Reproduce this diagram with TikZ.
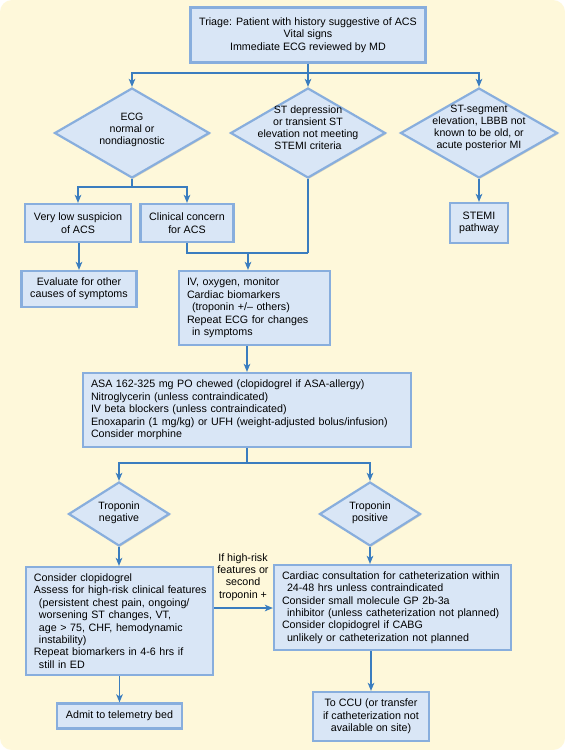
\documentclass[tikz,border=0pt]{standalone}
\usepackage{fontspec}
\setmainfont{Liberation Sans}
\usetikzlibrary{arrows.meta,shapes.geometric,shadows}
\definecolor{bgc}{HTML}{FEF8DA}
\definecolor{boxfill}{HTML}{D9E6F6}
\definecolor{boxedge}{HTML}{88AEDD}
\definecolor{arrc}{HTML}{3A7DBF}
\newcommand{\fsz}{\fontsize{10.7}{12.4}\selectfont}
\newcommand{\ind}{\hspace*{5pt}}
\begin{document}
\begin{tikzpicture}[x=1pt,y=-1pt,
  box/.style={draw=boxedge, line width=2.2pt, fill=boxfill, inner xsep=8pt, inner ysep=2pt,
    align=center, font=\fsz, text=black,
    drop shadow={shadow xshift=1.2pt, shadow yshift=-1.2pt, fill=black, opacity=0.12}},
  lbox/.style={box, align=left, execute at begin node={\hyphenpenalty=10000}},
  dia/.style={diamond, draw=boxedge, line width=2.2pt, fill=boxfill, inner sep=0pt,
    drop shadow={shadow xshift=1.2pt, shadow yshift=-1.2pt, fill=black, opacity=0.12}},
  dtext/.style={align=center, font=\fontsize{10.6}{12}\selectfont, inner sep=0pt},
  ln/.style={draw=arrc, line width=1.6pt},
  arr/.style={ln, -{Stealth[length=8pt,width=6.5pt,inset=2pt]}},
  lab/.style={align=center, font=\fsz, inner sep=0pt}]
\useasboundingbox (0,0) rectangle (565,750);
\fill[white] (0,0) rectangle (565,750);
\fill[bgc, rounded corners=12pt] (0,0) rectangle (565,750);

% top
\node[box, minimum width=235, minimum height=55] (top) at (308,35)
  {Triage: Patient with history suggestive of ACS\\Vital signs\\Immediate ECG reviewed by MD};

% diamonds
\node[dia, minimum width=155, minimum height=90] (d1) at (132,133) {};
\node[dia, minimum width=155, minimum height=90] (d2) at (308,133) {};
\node[dia, minimum width=157, minimum height=90] (d3) at (479,133) {};
\node[dtext] (d1t) at (132,130) {ECG\\normal or\\nondiagnostic};
\node[dtext] (d2t) at (308,128) {ST depression\\or transient ST\\elevation not meeting\\STEMI criteria};
\node[dtext] (d3t) at (479,128) {ST-segment\\elevation, LBBB not\\known to be old, or\\acute posterior MI};

% second row
\node[box, minimum width=106, minimum height=38] (vlow) at (78,223) {Very low suspicion\\of ACS};
\node[box, minimum width=93, minimum height=38] (clin) at (187,223) {Clinical concern\\for ACS};
\node[box, minimum width=58, minimum height=40] (stemi) at (479,223) {STEMI\\pathway};
\node[box, minimum width=115, minimum height=36] (eval) at (79,289) {Evaluate for other\\causes of symptoms};
\node[lbox, minimum width=151, minimum height=74, text width=135] (iv) at (254.5,308)
  {IV, oxygen, monitor\\Cardiac biomarkers\\\ind(troponin +/-- others)\\Repeat ECG for changes\\\ind in symptoms};

\node[lbox, minimum width=328, minimum height=74, text width=312] (asa) at (247,410)
  {ASA 162-325 mg PO chewed (clopidogrel if ASA-allergy)\\Nitroglycerin (unless contraindicated)\\IV beta blockers (unless contraindicated)\\Enoxaparin (1 mg/kg) or UFH (weight-adjusted bolus/infusion)\\Consider morphine};

\node[dia, minimum width=101, minimum height=64] (tn) at (119,514) {};
\node[dia, minimum width=101, minimum height=64] (tp) at (370,514) {};
\node[dtext] (tnt) at (119,513) {Troponin\\negative};
\node[dtext] (tpt) at (370,513) {Troponin\\positive};

\node[lbox, minimum width=187, minimum height=108, text width=171] (lb) at (119.5,621)
  {Consider clopidogrel\\\mbox{Assess for high-risk clinical features}\\\ind(persistent chest pain, ongoing/\\\ind worsening ST changes, VT,\\\ind age > 75, CHF, hemodynamic\\\ind instability)\\Repeat biomarkers in 4-6 hrs if\\\ind still in ED};
\node[lbox, minimum width=237, minimum height=85, text width=221] (rb) at (392.5,607.5)
  {\mbox{Cardiac consultation for catheterization within}\\\ind 24-48 hrs unless contraindicated\\Consider small molecule GP 2b-3a\\\ind\mbox{inhibitor (unless catheterization not planned)}\\Consider clopidogrel if CABG\\\ind unlikely or catheterization not planned};
\node[box, minimum width=125, minimum height=25] (adm) at (119.5,716) {Admit to telemetry bed};
\node[box, minimum width=116, minimum height=49] (ccu) at (371,716.5) {To CCU (or transfer\\if catheterization not\\available on site)};
\node[lab] (hl) at (243,577) {If high-risk\\features or\\second\\troponin +};

% connectors
\coordinate (s1) at (308,73);
\draw[ln] (top.south) -- (s1);
\draw[arr] (s1) -| (d1.north);
\draw[arr] (s1) -- (d2.north);
\draw[arr] (s1) -| (d3.north);

\coordinate (s2) at (132,187);
\draw[ln] (d1.south) -- (s2);
\draw[arr] (s2) -| (vlow.north);
\draw[arr] (s2) -| (clin.north);
\draw[arr] (d3.south) -- (stemi.north);
\draw[arr] (vlow.south -| eval.north) -- (eval.north);

\coordinate (s3) at (308,253);
\coordinate (s4) at (248,253);
\draw[ln] (d2.south) -- (s3);
\draw[ln] (clin.south) |- (s3);
\draw[arr] (s4) -- (s4 |- iv.north);
\draw[arr] (asa.north |- iv.south) -- (asa.north);

\coordinate (s5) at (247,463);
\draw[ln] (asa.south) -- (s5);
\draw[arr] (s5) -| (tn.north);
\draw[arr] (s5) -| (tp.north);
\draw[arr] (tn.south) -- (tn.south |- lb.north);
\draw[arr] (tp.south) -- (tp.south |- rb.north);
\coordinate (ya) at (0,608);
\draw[arr] (lb.east |- ya) -- (rb.west |- ya);
\draw[arr] (lb.south -| adm.north) -- (adm.north);
\draw[arr] (ccu.north |- rb.south) -- (ccu.north);
\end{tikzpicture}
\end{document}
